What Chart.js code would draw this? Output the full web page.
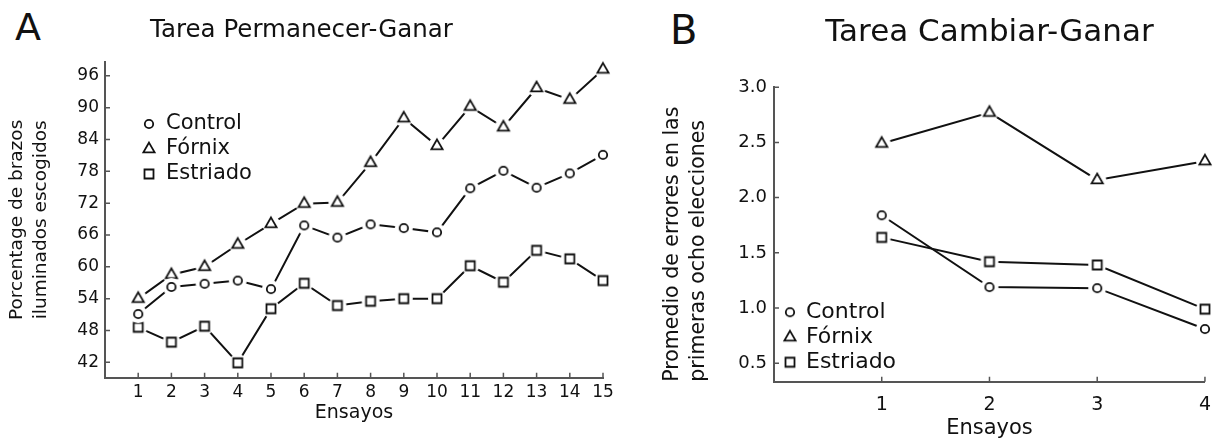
<!DOCTYPE html>
<html>
<head>
<meta charset="utf-8">
<script src="https://cdn.jsdelivr.net/npm/chart.js@4"></script>
<style>
  html, body { margin: 0; padding: 0; background: #fff; overflow: hidden; }
  body { width: 1223px; height: 441px; position: relative; font-family: 'DejaVu Sans', sans-serif; }
  .panel { position: absolute; line-height: 1; color: #111; }
  #wrapA { position: absolute; left: 0; top: 0; width: 620px; height: 441px; }
  #wrapB { position: absolute; left: 620px; top: 0; width: 603px; height: 441px; }
</style>
</head>
<body>
<div class="panel" style="left:15px;top:8px;font-size:38px">A</div>
<div class="panel" style="left:670px;top:10px;font-size:40px">B</div>
<div id="wrapA"><canvas id="chartA"></canvas></div>
<div id="wrapB"><canvas id="chartB"></canvas></div>
<script>
// datos
const groups = ['Control', 'Fórnix', 'Estriado'];

const trialsA = [1, 2, 3, 4, 5, 6, 7, 8, 9, 10, 11, 12, 13, 14, 15];
const controlA = [51.1, 56.2, 56.8, 57.4, 55.8, 67.8, 65.5, 68.0, 67.3, 66.5, 74.8, 78.1, 74.9, 77.6, 81.1];
const fornixA = [54.0, 58.5, 60.0, 64.2, 68.1, 71.9, 72.1, 79.6, 88.0, 82.8, 90.2, 86.3, 93.7, 91.5, 97.2];
const estriadoA = [48.6, 45.8, 48.8, 41.9, 52.1, 56.9, 52.7, 53.5, 54.0, 54.0, 60.2, 57.1, 63.1, 61.5, 57.4];
const yTicksA = [42, 48, 54, 60, 66, 72, 78, 84, 90, 96];

const trialsB = [1, 2, 3, 4];
const controlB = [1.84, 1.19, 1.18, 0.81];
const fornixB = [2.49, 2.77, 2.16, 2.33];
const estriadoB = [1.64, 1.42, 1.39, 0.99];
const yTicksB = [0.5, 1.0, 1.5, 2.0, 2.5, 3.0];

Chart.defaults.font.family = "'DejaVu Sans', sans-serif";
Chart.defaults.color = '#111';

// marcadores huecos con un halo blanco para cortar la linea
function makeMarker(shape) {
  const c = document.createElement('canvas');
  c.width = 24; c.height = 24;
  const g = c.getContext('2d');
  g.fillStyle = '#fff';
  g.beginPath(); g.arc(12, 12, 9, 0, Math.PI * 2); g.fill();
  g.strokeStyle = '#111'; g.lineWidth = 1.8;
  g.beginPath();
  if (shape === 'circle') {
    g.arc(12, 12, 4.2, 0, Math.PI * 2);
  } else if (shape === 'triangle') {
    g.moveTo(12, 5.6); g.lineTo(17.6, 15.3); g.lineTo(6.4, 15.3); g.closePath();
  } else {
    g.rect(7.5, 7.5, 9, 9);
  }
  g.stroke();
  return c;
}
const markers = [makeMarker('circle'), makeMarker('triangle'), makeMarker('rect')];

const innerTicks = {
  id: 'innerTicks',
  beforeDatasetsDraw(chart) {
    const ctx = chart.ctx, a = chart.chartArea, len = 5;
    const xs = chart.scales.x, ys = chart.scales.y;
    ctx.save();
    ctx.strokeStyle = '#555';
    ctx.lineWidth = 1.5;
    ctx.beginPath();
    xs.ticks.forEach(t => {
      const px = xs.getPixelForValue(t.value);
      ctx.moveTo(px, a.bottom); ctx.lineTo(px, a.bottom - len);
    });
    ys.ticks.forEach(t => {
      const py = ys.getPixelForValue(t.value);
      ctx.moveTo(a.left, py); ctx.lineTo(a.left + len, py);
    });
    ctx.stroke();
    ctx.restore();
  }
};

const innerLegend = {
  id: 'innerLegend',
  afterDatasetsDraw(chart, args, opts) {
    const ctx = chart.ctx, a = chart.chartArea;
    ctx.save();
    ctx.font = opts.size + "px 'DejaVu Sans'";
    ctx.fillStyle = '#111';
    ctx.textBaseline = 'middle';
    chart.data.datasets.forEach((ds, i) => {
      const x = a.left + opts.x, y = a.top + opts.y + i * 25;
      const img = ds.pointStyle;
      ctx.drawImage(img, x - img.width / 2, y - img.height / 2);
      ctx.fillText(ds.label, x + opts.gap, y);
    });
    ctx.restore();
  }
};

function buildChart(id, o) {
  return new Chart(document.getElementById(id), {
    type: 'line',
    data: {
      datasets: o.series.map((s, i) => ({
        label: groups[i],
        data: o.trials.map((t, k) => ({ x: t, y: s[k] })),
        borderColor: '#111',
        borderWidth: 2,
        pointStyle: markers[i],
        pointRadius: 6,
        tension: 0,
        clip: false
      }))
    },
    plugins: [innerTicks, innerLegend],
    options: {
      responsive: true,
      maintainAspectRatio: false,
      animation: false,
      layout: { padding: { left: 0, right: o.padRight, top: 0, bottom: 0 } },
      plugins: {
        legend: { display: false },
        tooltip: { enabled: false },
        title: {
          display: true,
          text: o.title,
          fullSize: o.titleFull,
          color: '#111',
          font: { size: o.titleSize, weight: 'normal', lineHeight: 1.2 },
          padding: { top: o.titleTop, bottom: o.titleGap }
        },
        innerLegend: o.legend
      },
      scales: {
        x: {
          type: 'linear',
          min: 0,
          max: o.trials[o.trials.length - 1],
          border: { color: '#555', width: 2 },
          grid: { drawOnChartArea: false, drawTicks: false },
          ticks: { font: { size: o.xTickSize }, padding: o.xPad, maxRotation: 0, autoSkip: false },
          afterBuildTicks: s => { s.ticks = o.trials.map(v => ({ value: v })); },
          afterFit: s => { s.height = o.xAxisH; },
          title: {
            display: true, text: 'Ensayos', color: '#111',
            font: { size: o.xTitleSize, lineHeight: 1.2 },
            padding: { top: 0, bottom: o.xTitlePad }
          }
        },
        y: {
          min: o.yMin,
          max: o.yMax,
          border: { color: '#555', width: 2 },
          grid: { drawOnChartArea: false, drawTicks: false },
          ticks: { font: { size: o.yTickSize }, padding: o.yPad, callback: o.fmt },
          afterBuildTicks: s => { s.ticks = o.yTicks.map(v => ({ value: v })); },
          afterFit: s => { s.width = o.yAxisW; },
          title: {
            display: true, text: o.yTitle, color: '#111', align: o.yTitleAlign,
            font: { size: o.yTitleSize, lineHeight: 1.3 },
            padding: { top: o.yTitlePad, bottom: 0 }
          }
        }
      }
    }
  });
}

buildChart('chartA', {
  title: 'Tarea Permanecer-Ganar',
  titleFull: true, titleSize: 24.5, titleTop: 16, titleGap: 16.6,
  trials: trialsA,
  series: [controlA, fornixA, estriadoA],
  yTicks: yTicksA,
  yMin: 39.1, yMax: 98.6,
  fmt: v => String(v),
  yTitle: ['Porcentage de brazos', 'iluminados escogidos'],
  yTitleSize: 18.5, yTitleAlign: 'center', yTitlePad: 5,
  padRight: 17,
  yAxisW: 105, xAxisH: 63.3,
  xTickSize: 17, yTickSize: 17, xPad: 5, yPad: 6,
  xTitleSize: 19, xTitlePad: 16.6,
  legend: { x: 44, y: 62, gap: 17, size: 21 }
});

buildChart('chartB', {
  title: 'Tarea Cambiar-Ganar',
  titleFull: false, titleSize: 31, titleTop: 14.4, titleGap: 35.6,
  trials: trialsB,
  series: [controlB, fornixB, estriadoB],
  yTicks: yTicksB,
  yMin: 0.333, yMax: 3.0,
  fmt: v => v.toFixed(1),
  yTitle: ['Promedio de errores en las', 'primeras ocho elecciones'],
  yTitleSize: 20.5, yTitleAlign: 'start', yTitlePad: 39,
  padRight: 10,
  yAxisW: 154, xAxisH: 59.3,
  xTickSize: 19, yTickSize: 18, xPad: 12, yPad: 7,
  xTitleSize: 21, xTitlePad: 0,
  legend: { x: 16, y: 225, gap: 16, size: 22 }
});
</script>
</body>
</html>
